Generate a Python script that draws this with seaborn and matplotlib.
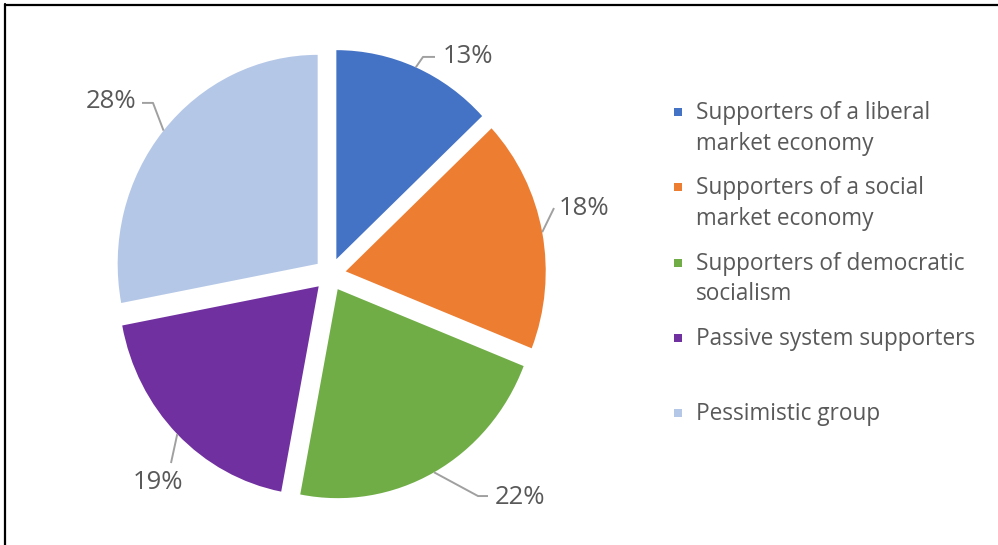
import matplotlib
matplotlib.use("Agg")
import matplotlib.pyplot as plt
import numpy as np
import seaborn as sns

# Survey groups and their shares (%)
categories = [
    "Supporters of a liberal\nmarket economy",
    "Supporters of a social\nmarket economy",
    "Supporters of democratic\nsocialism",
    "Passive system supporters",
    "Pessimistic group",
]
shares = [13, 18, 22, 19, 28]
colors = ["#4472C4", "#ED7D31", "#70AD47", "#7030A0", "#B4C7E7"]

sns.set_theme(style="white")
plt.rcParams["font.family"] = ["Open Sans", "DejaVu Sans"]

TEXT = "#595959"
LEADER = "#A0A0A0"

W, H = 998, 545
fig = plt.figure(figsize=(W / 100, H / 100), dpi=100, facecolor="white")

# Pie axes: unit radius spans rx pixels across and ry pixels down
cx, cy, rx, ry = 330, 274.5, 200, 209
lim = 1.1
ax = fig.add_axes([(cx - lim * rx) / W, (H - cy - lim * ry) / H,
                   2 * lim * rx / W, 2 * lim * ry / H])
explode = 0.08
wedges, _ = ax.pie(shares, colors=colors, startangle=90, counterclock=False,
                   explode=[explode] * len(shares),
                   wedgeprops=dict(linewidth=0))
ax.set_xlim(-lim, lim)
ax.set_ylim(-lim, lim)
ax.set_aspect("auto")
ax.axis("off")

# Leader-line routing for the percentage labels
label_layout = [
    dict(elbow=(0.465, 1.041), end=(0.525, 1.041), text=(0.565, 1.041), ha="left"),
    dict(elbow=(1.12, 0.318), end=None, text=(1.145, 0.318), ha="left"),
    dict(elbow=(0.74, -1.060), end=(0.79, -1.060), text=(0.825, -1.065), ha="left"),
    dict(elbow=(-0.795, -0.902), end=None, text=(-0.86, -0.993), ha="center"),
    dict(elbow=(-0.885, 0.821), end=(-0.94, 0.821), text=(-0.97, 0.830), ha="right"),
]
for w, v, lay in zip(wedges, shares, label_layout):
    mid = np.deg2rad((w.theta1 + w.theta2) / 2)
    ox, oy = w.center
    start = (ox + w.r * np.cos(mid), oy + w.r * np.sin(mid))
    pts = [start, lay["elbow"]]
    if lay["end"] is not None:
        pts.append(lay["end"])
    xs, ys = zip(*pts)
    ax.plot(xs, ys, color=LEADER, lw=1.4, solid_capstyle="butt", clip_on=False)
    ax.text(*lay["text"], f"{v}%", ha=lay["ha"], va="center",
            fontsize=18.5, color=TEXT)

# Overlay axes in pixel units for the legend and the frame
lg = fig.add_axes([0, 0, 1, 1])
lg.set_xlim(0, W)
lg.set_ylim(H, 0)
lg.axis("off")
lg.patch.set_alpha(0)

first_baseline, entry_step, line_step = 119, 75.3, 30.5
for i, (lab, c) in enumerate(zip(categories, colors)):
    y0 = first_baseline + i * entry_step
    lg.scatter([678], [y0 - 7], marker="s", s=40, color=c, linewidths=0)
    for j, line in enumerate(lab.split("\n")):
        lg.text(696, y0 + j * line_step, line, ha="left", va="baseline",
                fontsize=16.3, color=TEXT)

lg.plot([5, W], [4.5, 4.5], color="black", lw=1.6, clip_on=False)
lg.plot([5.5, 5.5], [4, H], color="black", lw=1.6, clip_on=False)

fig.savefig("out.png", dpi=100, facecolor="white")
